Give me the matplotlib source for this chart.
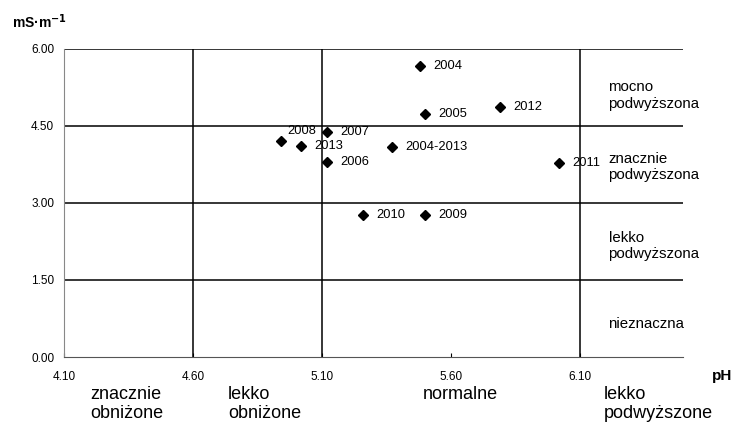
import numpy as np
import matplotlib.pyplot as plt
from matplotlib import rcParams

rcParams['font.family'] = ['Liberation Sans', 'DejaVu Sans']

# data
years = ['2004', '2005', '2012', '2007', '2008', '2013', '2006',
         '2004-2013', '2011', '2010', '2009']
ph = [5.48, 5.50, 5.79, 5.12, 4.94, 5.02, 5.12, 5.37, 6.02, 5.26, 5.50]
ec = [5.67, 4.73, 4.87, 4.38, 4.21, 4.11, 3.80, 4.09, 3.78, 2.77, 2.77]

x_ticks = [4.10, 4.60, 5.10, 5.60, 6.10]
y_ticks = [0.00, 1.50, 3.00, 4.50, 6.00]
ph_bounds = [4.60, 5.10, 6.10]
ec_bounds = [1.50, 3.00, 4.50, 6.00]

ec_classes = ['mocno\npodwyższona', 'znacznie\npodwyższona',
              'lekko\npodwyższona', 'nieznaczna']
ec_class_y = [5.10, 3.70, 2.16, 0.64]
ph_classes = ['znacznie\nobniżone', 'lekko\nobniżone', 'normalne',
              'lekko\npodwyższone']
ph_class_x = [4.20, 4.735, 5.49, 6.19]

fig = plt.figure(figsize=(7.33, 4.24), dpi=100)
ax = fig.add_axes([0.0873, 0.158, 0.845, 0.7265])
ax.set_xlim(4.10, 6.50)
ax.set_ylim(0, 6.0)

for x in ph_bounds:
    ax.axvline(x, color='black', linewidth=1.1)
for y in ec_bounds:
    ax.axhline(y, color='black', linewidth=1.1)

ax.plot(ph, ec, 'D', color='black', markersize=5)

offsets = {'2008': (5, 7)}
for yr, x, y in zip(years, ph, ec):
    dx, dy = offsets.get(yr, (9.5, 0))
    ax.annotate(yr, (x, y), xytext=(dx, dy), textcoords='offset points',
                va='center', ha='left', fontsize=9.3)

for spine in ['top', 'right']:
    ax.spines[spine].set_visible(False)
ax.spines['left'].set_color('#888888')
ax.spines['bottom'].set_color('#555555')

ax.set_xticks(x_ticks)
ax.set_xticklabels(['%.2f' % v for v in x_ticks])
ax.set_yticks(y_ticks)
ax.set_yticklabels(['%.2f' % v for v in y_ticks])
ax.tick_params(axis='x', direction='in', length=3, labelsize=8.5, pad=10)
ax.tick_params(axis='y', length=0, labelsize=8.5, pad=7)

for t, y in zip(ec_classes, ec_class_y):
    ax.text(6.21, y, t, ha='left', va='center', fontsize=10.8,
            linespacing=1.25)

# pH classes below the axis, one text per line
for t, x in zip(ph_classes, ph_class_x):
    for i, line in enumerate(t.split('\n')):
        ax.text(x, -0.82 - 0.37 * i, line, ha='left', va='baseline',
                fontsize=13, clip_on=False)

fig.text(0.016, 0.935, 'mS·m$^{\\mathbf{-1}}$', fontsize=10, fontweight='bold')
fig.text(0.971, 0.104, 'pH', fontsize=11, fontweight='bold')

fig.savefig('out.png', dpi=100)
